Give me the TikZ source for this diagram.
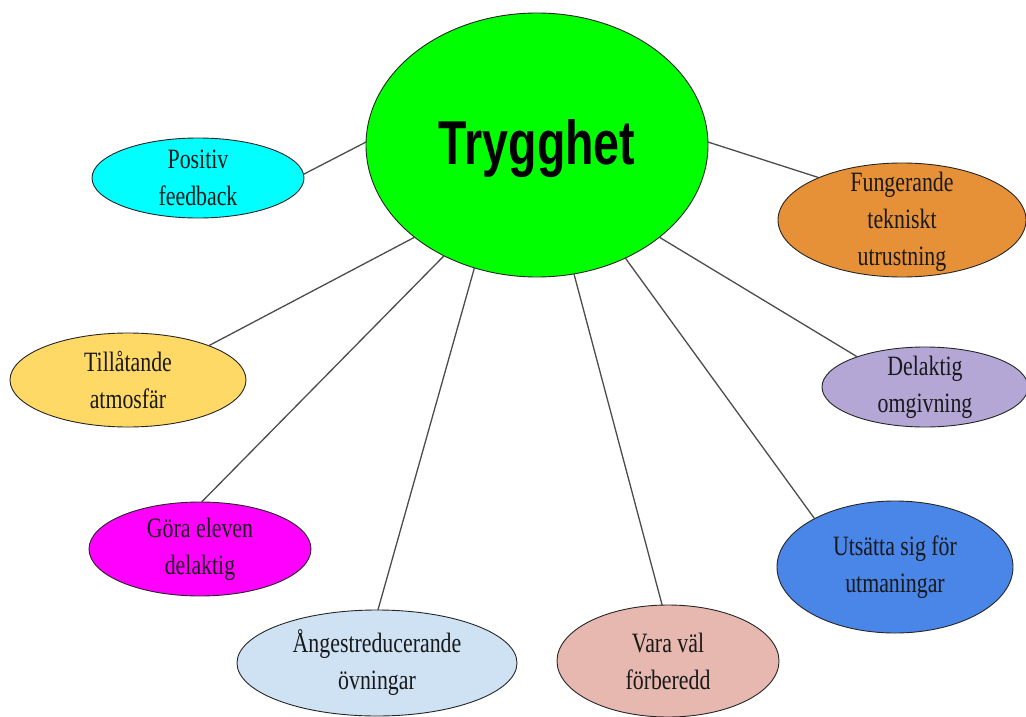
\documentclass[tikz,border=0pt]{standalone}
\usepackage{fontspec}
\usetikzlibrary{shapes.geometric}
\newfontfamily\nodefont[FakeStretch=0.78]{Liberation Serif}
\newfontfamily\titlefont[FakeStretch=0.75]{Liberation Sans}
\definecolor{cgreen}{HTML}{00FF00}
\definecolor{ccyan}{HTML}{00FFFF}
\definecolor{corange}{HTML}{E69138}
\definecolor{cyellow}{HTML}{FFD966}
\definecolor{cpurple}{HTML}{B4A7D6}
\definecolor{cmagenta}{HTML}{FF00FF}
\definecolor{cblue}{HTML}{4A86E8}
\definecolor{clightblue}{HTML}{CFE2F3}
\definecolor{cpink}{HTML}{E6B8AF}
\tikzset{
  bub/.style={ellipse, draw=black!85, line width=0.9pt, inner sep=0pt, outer sep=0pt},
  txt/.style={font=\nodefont\fontsize{28}{37}\selectfont, align=center, inner sep=0pt, text=black!90},
  conn/.style={draw=black!70, line width=1.3pt}
}
\begin{document}
\begin{tikzpicture}[x=1pt,y=-1pt]
\useasboundingbox[fill=white] (0,0) rectangle (1026,717);
\node[bub, fill=cgreen, minimum width=342pt, minimum height=264pt,
  label={[font=\titlefont\bfseries\fontsize{62}{62}\selectfont, inner sep=0pt, yshift=-4pt]center:Trygghet}] (c) at (537,145) {};
\node[bub, fill=ccyan, minimum width=212pt, minimum height=80pt,
  label={[txt]center:Positiv\\feedback}] (pf) at (198,178) {};
\node[bub, fill=corange, minimum width=248pt, minimum height=114pt,
  label={[txt, yshift=-2pt]center:Fungerande\\tekniskt\\utrustning}] (fu) at (902,220) {};
\node[bub, fill=cyellow, minimum width=236pt, minimum height=94pt,
  label={[txt]center:Tillåtande\\atmosfär}] (ta) at (128,380) {};
\node[bub, fill=cpurple, minimum width=206pt, minimum height=80pt,
  label={[txt]center:Delaktig\\omgivning}] (do) at (925,387) {};
\node[bub, fill=cmagenta, minimum width=222pt, minimum height=94pt,
  label={[txt]center:Göra eleven\\delaktig}] (ge) at (200,549) {};
\node[bub, fill=cblue, minimum width=236pt, minimum height=132pt,
  label={[txt]center:Utsätta sig för\\utmaningar}] (us) at (895,567) {};
\node[bub, fill=clightblue, minimum width=280pt, minimum height=106pt,
  label={[txt]center:Ångestreducerande\\övningar}] (ao) at (377,663) {};
\node[bub, fill=cpink, minimum width=222pt, minimum height=112pt,
  label={[txt]center:Vara väl\\förberedd}] (vf) at (668,661) {};
\draw[conn] (c.179) -- (pf.2);
\draw[conn] (c.1) -- (fu.153);
\draw[conn] (c.217) -- (ta.23);
\draw[conn] (c.323) -- (do.156);
\draw[conn] (c.230) -- (ge.88);
\draw[conn] (c.308) -- (us.149);
\draw[conn] (c.243) -- (ao.89);
\draw[conn] (c.286) -- (vf.96);
\end{tikzpicture}
\end{document}
